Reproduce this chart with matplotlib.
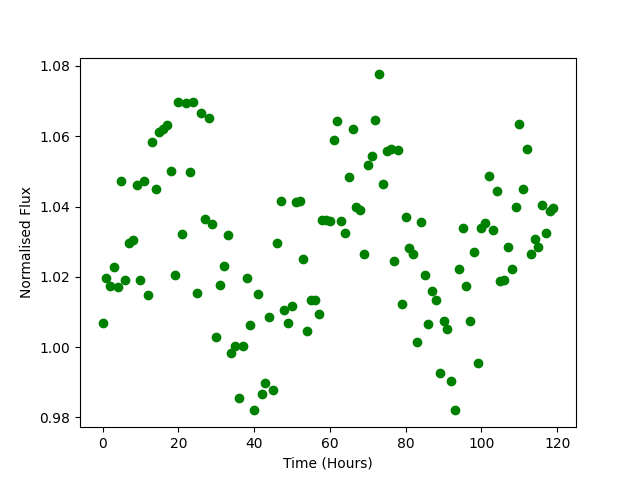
import numpy as np
import matplotlib
matplotlib.use('Agg')
import matplotlib.pyplot as plt

# hourly samples
time_hours = np.arange(0, 120)

flux = [
    1.0070, 1.0198, 1.0175, 1.0227, 1.0170, 1.0474, 1.0192, 1.0296, 1.0304, 1.0460,
    1.0192, 1.0474, 1.0147, 1.0583, 1.0449, 1.0611, 1.0621, 1.0633, 1.0500, 1.0204,
    1.0697, 1.0323, 1.0694, 1.0497, 1.0697, 1.0155, 1.0666, 1.0366, 1.0651, 1.0349,
    1.0030, 1.0178, 1.0232, 1.0318, 0.9984, 1.0004, 0.9854, 1.0004, 1.0198, 1.0064,
    0.9820, 1.0150, 0.9867, 0.9899, 1.0087, 0.9879, 1.0296, 1.0417, 1.0107, 1.0070,
    1.0118, 1.0412, 1.0415, 1.0252, 1.0045, 1.0135, 1.0133, 1.0093, 1.0363, 1.0363,
    1.0358, 1.0588, 1.0642, 1.0358, 1.0326, 1.0483, 1.0622, 1.0398, 1.0389, 1.0266,
    1.0517, 1.0543, 1.0645, 1.0776, 1.0463, 1.0557, 1.0563, 1.0246, 1.0560, 1.0124,
    1.0369, 1.0281, 1.0266, 1.0016, 1.0355, 1.0204, 1.0067, 1.0161, 1.0133, 0.9927,
    1.0075, 1.0053, 0.9905, 0.9820, 1.0221, 1.0338, 1.0175, 1.0075, 1.0272, 0.9956,
    1.0340, 1.0352, 1.0486, 1.0332, 1.0443, 1.0187, 1.0192, 1.0286, 1.0221, 1.0400,
    1.0634, 1.0449, 1.0563, 1.0266, 1.0309, 1.0286, 1.0403, 1.0326, 1.0386, 1.0395,
]

fig = plt.figure(figsize=(6.4, 4.8), dpi=100)
plt.plot(time_hours, flux, 'go')
plt.xlabel('Time (Hours)')
plt.ylabel('Normalised Flux')

plt.savefig('out.png')
